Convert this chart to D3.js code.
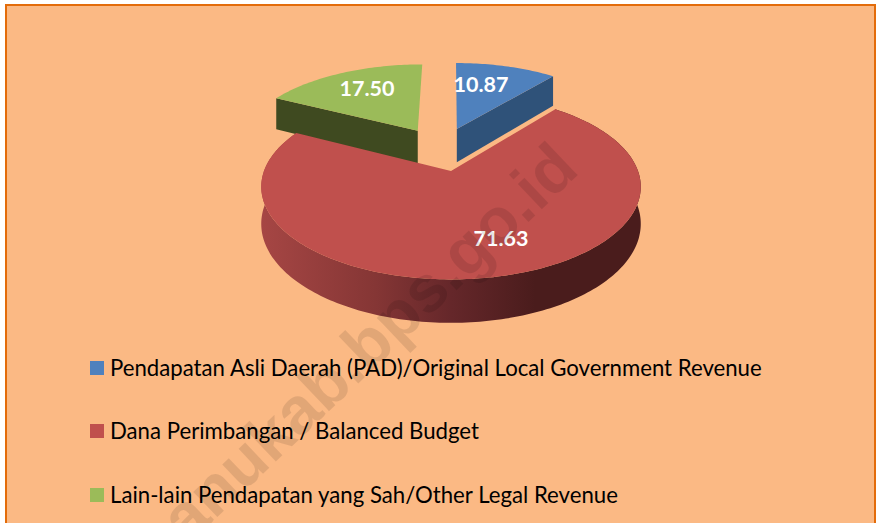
<!DOCTYPE html>
<html><head><meta charset="utf-8">
<script src="https://cdn.jsdelivr.net/npm/d3@7/dist/d3.min.js"></script>
<style>html,body{margin:0;padding:0;background:#fff}svg{display:block}</style>
</head><body><svg id="c" width="876" height="523"></svg>
<script>
const categories = ["Pendapatan Asli Daerah (PAD)/Original Local Government Revenue","Dana Perimbangan / Balanced Budget","Lain-lain Pendapatan yang Sah/Other Legal Revenue"];
const values = [10.87, 71.63, 17.50];
const topColors = ["#4f81bd","#c0504d","#9bbb59"];
const sideColors = ["#2f5279","#7a3231","#3f4a20"];
const watermark = "anukab.bps.go.id";

const svg = d3.select("#c");
const font = "Lato, Carlito, sans-serif";
const defs = svg.append("defs");
const g = defs.append("linearGradient").attr("id","redSide").attr("gradientUnits","userSpaceOnUse")
  .attr("x1",261).attr("x2",642).attr("y1",0).attr("y2",0);
[[0,"#a64644"],[.3,"#853635"],[.5,"#65272a"],[.72,"#4a1c1c"],[1,"#4a1c1c"]].forEach(s=>g.append("stop").attr("offset",s[0]).attr("stop-color",s[1]));

svg.append("rect").attr("width",876).attr("height",523).attr("fill","#fff");
svg.append("rect").attr("x",6).attr("y",5).attr("width",869).attr("height",540).attr("fill","#fbb984").attr("stroke","#e36c0a").attr("stroke-width",2);

// perspective disc projection
const O=[451,171], R=187, RK=90, P=0.17, DEPTH=36, EXPLODE=0.264;
const proj=(u,v,z=0)=>{const s=1/(1+P*v);return [O[0]+R*u*s, O[1]-RK*v*s+z*DEPTH*s];};
const arcs=d3.pie().sort(null).value(d=>d)(values);
const dir=a=>[Math.sin(a),Math.cos(a)];
const mid=a=>(a.startAngle+a.endAngle)/2;
const redDir=dir(mid(arcs[1]));
const line=d3.line();
const slices=arcs.map((a,i)=>{
  const d=dir(mid(a));
  const c=[EXPLODE*(d[0]-redDir[0]),EXPLODE*(d[1]-redDir[1])];
  const n=Math.ceil((a.endAngle-a.startAngle)/0.02);
  const rim=d3.range(n+1).map(k=>{const t=a.startAngle+(a.endAngle-a.startAngle)*k/n;const q=dir(t);return [c[0]+q[0],c[1]+q[1]];});
  return {i,c,rim};
});
const pts=(arr,z)=>arr.map(p=>proj(p[0],p[1],z));
const order=[2,0,1];
order.forEach(i=>{
  const s=slices[i];
  if(i===1){
    const t=pts(s.rim,0), b=pts(s.rim,1).reverse();
    svg.append("path").attr("d",line(t.concat(b))+"Z").attr("fill","url(#redSide)");
  } else {
    const edge=i===0?s.rim[s.rim.length-1]:s.rim[0];
    const poly=[proj(s.c[0],s.c[1],0),proj(edge[0],edge[1],0),proj(edge[0],edge[1],1),proj(s.c[0],s.c[1],1)];
    svg.append("path").attr("d",line(poly)+"Z").attr("fill",sideColors[i]);
  }
  svg.append("path").attr("d",line([proj(s.c[0],s.c[1],0)].concat(pts(s.rim,0)))+"Z").attr("fill",topColors[i]);
});

// data labels
const labelPos=[[481,92],[501,246],[367,96]];
values.forEach((v,i)=>svg.append("text").attr("x",labelPos[i][0]).attr("y",labelPos[i][1]).attr("text-anchor","middle")
  .attr("font-family",font).attr("font-weight",700).attr("font-size",21.5).attr("fill","#fff").text(v.toFixed(2)));

// legend
const legendY=[368,431,495];
categories.forEach((c,i)=>{
  svg.append("rect").attr("x",90).attr("y",legendY[i]-7).attr("width",14).attr("height",14).attr("fill",topColors[i]);
  svg.append("text").attr("x",110).attr("y",legendY[i]+8).attr("font-family",font).attr("font-size",22.2).attr("fill","#000").text(c);
});

// watermark
svg.append("text").attr("transform","translate(581,172) rotate(-43.5)").attr("text-anchor","end")
  .attr("font-family","Liberation Sans, Arial, sans-serif").attr("font-weight",700).attr("font-size",66)
  .attr("fill","#000").attr("fill-opacity",0.1).text(watermark);
</script></body></html>
